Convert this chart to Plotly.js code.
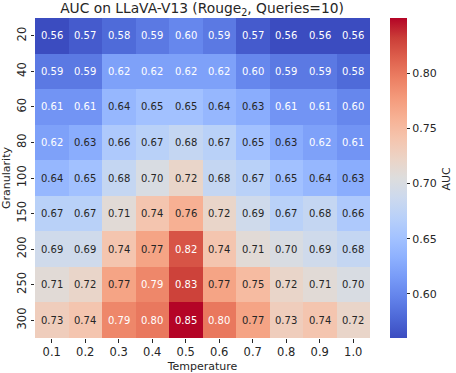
<!DOCTYPE html>
<html>
<head>
<meta charset="utf-8">
<script src="https://cdn.plot.ly/plotly-3.0.1.min.js"></script>
<style>
	html, body { margin: 0; padding: 0; background: #fff; }
	#grafico { width: 456px; height: 373px; }
</style>
</head>
<body>
<div id="grafico"></div>
<script>
// Temperatura (columnas) y granularidad (filas)
const temperaturas = ["0.1", "0.2", "0.3", "0.4", "0.5", "0.6", "0.7", "0.8", "0.9", "1.0"];
const granularidades = ["20", "40", "60", "80", "100", "150", "200", "250", "300"];

// AUC por fila de granularidad
const auc20 = [0.56, 0.57, 0.58, 0.59, 0.60, 0.59, 0.57, 0.56, 0.56, 0.56];
const auc40 = [0.59, 0.59, 0.62, 0.62, 0.62, 0.62, 0.60, 0.59, 0.59, 0.58];
const auc60 = [0.61, 0.61, 0.64, 0.65, 0.65, 0.64, 0.63, 0.61, 0.61, 0.60];
const auc80 = [0.62, 0.63, 0.66, 0.67, 0.68, 0.67, 0.65, 0.63, 0.62, 0.61];
const auc100 = [0.64, 0.65, 0.68, 0.70, 0.72, 0.68, 0.67, 0.65, 0.64, 0.63];
const auc150 = [0.67, 0.67, 0.71, 0.74, 0.76, 0.72, 0.69, 0.67, 0.68, 0.66];
const auc200 = [0.69, 0.69, 0.74, 0.77, 0.82, 0.74, 0.71, 0.70, 0.69, 0.68];
const auc250 = [0.71, 0.72, 0.77, 0.79, 0.83, 0.77, 0.75, 0.72, 0.71, 0.70];
const auc300 = [0.73, 0.74, 0.79, 0.80, 0.85, 0.80, 0.77, 0.73, 0.74, 0.72];
const matrizAuc = [auc20, auc40, auc60, auc80, auc100, auc150, auc200, auc250, auc300];

const ticksBarra = [0.60, 0.65, 0.70, 0.75, 0.80];

// coolwarm de matplotlib (tabla de Moreland)
const coolwarm = [
	[0.0, "rgb(59,76,192)"], [0.0625, "rgb(77,104,215)"], [0.125, "rgb(98,130,234)"],
	[0.1875, "rgb(119,154,247)"], [0.25, "rgb(141,176,254)"], [0.3125, "rgb(163,194,255)"],
	[0.375, "rgb(184,208,249)"], [0.4375, "rgb(204,217,238)"], [0.5, "rgb(221,221,221)"],
	[0.5625, "rgb(236,211,197)"], [0.625, "rgb(245,196,173)"], [0.6875, "rgb(247,177,148)"],
	[0.75, "rgb(244,154,123)"], [0.8125, "rgb(236,127,99)"], [0.875, "rgb(222,96,77)"],
	[0.9375, "rgb(203,62,56)"], [1.0, "rgb(180,4,38)"],
];

const fuente = "DejaVu Sans, sans-serif";

let zmin = Infinity;
let zmax = -Infinity;
matrizAuc.forEach((fila) => fila.forEach((v) => {
	if (v < zmin) zmin = v;
	if (v > zmax) zmax = v;
}));

// Texto de cada celda, blanco en los extremos de la escala
// (posición por índice de categoría: las cadenas numéricas se leen como índices)
let anotaciones = [];
matrizAuc.forEach((fila, i) => {
	fila.forEach((v, j) => {
		const oscuro = v <= 0.62 || v >= 0.78;
		anotaciones.push({
			x: j,
			y: i,
			xref: "x",
			yref: "y",
			text: v.toFixed(2),
			showarrow: false,
			font: { family: fuente, size: 10, color: oscuro ? "#ffffff" : "#262626" },
		});
	});
});

// Título de la barra de color aparte, para que no empuje el margen derecho
anotaciones.push({
	x: 1.2537,
	y: 0.5,
	xref: "paper",
	yref: "paper",
	xanchor: "right",
	yanchor: "middle",
	textangle: -90,
	text: "AUC",
	showarrow: false,
	font: { family: fuente, size: 11, color: "#262626" },
});

const trace = {
	type: "heatmap",
	x: temperaturas,
	y: granularidades,
	z: matrizAuc,
	zmin: zmin,
	zmax: zmax,
	colorscale: coolwarm,
	showscale: true,
	colorbar: {
		x: 1.06,
		xanchor: "left",
		xpad: 0,
		y: 0.5,
		yanchor: "middle",
		ypad: 0,
		len: 1,
		lenmode: "fraction",
		thickness: 17,
		outlinewidth: 0,
		ticks: "outside",
		ticklen: 3.5,
		tickcolor: "#262626",
		tickvals: ticksBarra,
		ticktext: ticksBarra.map((t) => t.toFixed(2)),
		tickfont: { family: fuente, size: 11, color: "#262626" },
	},
};

const layout = {
	width: 456,
	height: 373,
	margin: { l: 35, r: 86, t: 18, b: 35, pad: 0 },
	paper_bgcolor: "#ffffff",
	plot_bgcolor: "#ffffff",
	font: { family: fuente, size: 11, color: "#262626" },
	title: {
		text: "AUC on LLaVA-V13 (Rouge<sub>2</sub>, Queries=10)",
		font: { family: fuente, size: 13.8, color: "#262626" },
		x: 0.443,
		xanchor: "center",
		y: 0.992,
		yanchor: "top",
	},
	xaxis: {
		type: "category",
		range: [-0.5, temperaturas.length - 0.5],
		title: { text: "Temperature", font: { family: fuente, size: 11 }, standoff: 4 },
		ticks: "outside",
		ticklen: 3.5,
		tickcolor: "#262626",
		showgrid: false,
		zeroline: false,
		showline: false,
		tickfont: { family: fuente, size: 11.5 },
	},
	yaxis: {
		type: "category",
		range: [granularidades.length - 0.5, -0.5],
		title: { text: "Granularity", font: { family: fuente, size: 11 }, standoff: 2 },
		ticks: "outside",
		ticklen: 3.5,
		tickcolor: "#262626",
		tickangle: -90,
		showgrid: false,
		zeroline: false,
		showline: false,
		tickfont: { family: fuente, size: 11.5 },
	},
	annotations: anotaciones,
};

Plotly.newPlot("grafico", [trace], layout, { staticPlot: true, displayModeBar: false });
</script>
</body>
</html>
